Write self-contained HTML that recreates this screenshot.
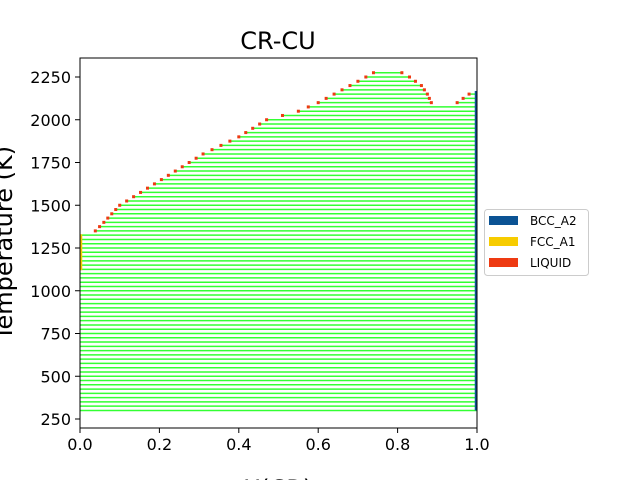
<!DOCTYPE html>
<html><head><meta charset="utf-8"><style>
html,body{margin:0;background:#fff;width:640px;height:480px;overflow:hidden;}
svg{display:block;font-family:"DejaVu Sans","Liberation Sans",sans-serif;overflow:hidden;}
</style></head><body>
<svg id="chart" width="640" height="480" viewBox="0 0 640 480">
<g id="plot"></g>
<rect x="80" y="58" width="397" height="370" fill="none" stroke="#000" stroke-width="1"/>
<text x="278" y="49" font-size="24" text-anchor="middle">CR-CU</text>
<text x="278" y="497" font-size="24" text-anchor="middle">X(CR)</text>
<text transform="translate(12,243) rotate(-90)" font-size="24" text-anchor="middle">Temperature (K)</text>
<g id="ticks"></g>
<g>
<rect x="484.5" y="209.5" width="104" height="66" rx="3" fill="#fff" stroke="#ccc"/>
<rect x="489" y="216" width="29" height="9" fill="#0b5394"/>
<text x="530" y="225" font-size="12">BCC_A2</text>
<rect x="489" y="237" width="29" height="9" fill="#f7cc00"/>
<text x="530" y="246" font-size="12">FCC_A1</text>
<rect x="489" y="258" width="29" height="9" fill="#ee3a12"/>
<text x="530" y="267" font-size="12">LIQUID</text>
</g>
</svg>
<script>
const xTicks=[0,0.2,0.4,0.6,0.8,1.0];
const xTickLabels=["0.0","0.2","0.4","0.6","0.8","1.0"];
const yTicks=[250,500,750,1000,1250,1500,1750,2000,2250];
// left liquidus (temperature, composition)
const leftT=[1330,1330,1400,1500,1600,1700,1800,1900,2000,2050,2100,2150,2200,2250,2276];
const leftX=[0.0,0.03,0.06,0.10,0.17,0.24,0.31,0.40,0.47,0.55,0.60,0.64,0.68,0.72,0.74];
// right side of hump
const humpT=[2086,2100,2150,2200,2250,2276];
const humpX=[0.894,0.885,0.875,0.86,0.83,0.81];
// rising branch near pure Cr
const riseT=[2086,2100,2150,2168];
const riseX=[0.912,0.95,0.98,1.0];
const tieStart=300, tieStep=25, tieEnd=2275;
const fccT=[1120,1330];
const bccT=[300,2168];

const NS="http://www.w3.org/2000/svg";
const sx=x=>80+397*x;
const sy=T=>419-(T-250)*0.171;
function interp(T,ts,xs){
  for(let i=ts.length-1;i>0;i--){
    if(T>=ts[i-1]&&T<=ts[i]){const a=ts[i-1],b=ts[i];return b===a?xs[i]:xs[i-1]+(xs[i]-xs[i-1])*(T-a)/(b-a);}
  }
  return null;
}
function el(tag,attrs,parent){const e=document.createElementNS(NS,tag);for(const k in attrs)e.setAttribute(k,attrs[k]);parent.appendChild(e);return e;}
const plot=document.getElementById('plot');
const dots=[];
for(let T=tieStart;T<=tieEnd;T+=tieStep){
  const segs=[];
  let lx=T<1330?0:interp(T,leftT,leftX);
  if(lx===null) continue;
  if(T<=2086){segs.push([lx,1]);}
  else{
    const hx=interp(T,humpT,humpX); if(hx!==null){segs.push([lx,hx]);dots.push([hx,T]);}
    const rx=interp(T,riseT,riseX); if(rx!==null){segs.push([rx,1]);dots.push([rx,T]);}
  }
  if(T>=1330) dots.push([lx,T]);
  segs.forEach(s=>{
    const l=el('line',{x1:sx(s[0]),x2:sx(s[1]),y1:sy(T),y2:sy(T),stroke:'#33ff33','stroke-width':1.5},plot);
    
    
  });
}
const f=el('line',{x1:sx(0)+1,x2:sx(0)+1,y1:sy(fccT[0]),y2:sy(fccT[1]),stroke:'#f7cc00','stroke-width':2.5},plot);


const b=el('line',{x1:sx(1)-1,x2:sx(1)-1,y1:sy(bccT[0]),y2:sy(bccT[1]),stroke:'#0b5394','stroke-width':2.5},plot);


dots.forEach(d=>{
  const r=el('rect',{x:sx(d[0])-1.5,y:sy(d[1])-1.5,width:3,height:3,fill:'#ee3a12'},plot);
  
  
});
const ticks=document.getElementById('ticks');
xTicks.forEach((v,i)=>{
  const t=el('line',{x1:sx(v),x2:sx(v),y1:428,y2:433,stroke:'#000'},ticks);
  
  
  const tx=el('text',{x:sx(v),y:450,'font-size':16,'text-anchor':'middle'},ticks);
  tx.textContent=xTickLabels[i];
  
  
});
yTicks.forEach(v=>{
  const t=el('line',{x1:75,x2:80,y1:sy(v),y2:sy(v),stroke:'#000'},ticks);
  
  
  const tx=el('text',{x:71,y:sy(v)+6,'font-size':16,'text-anchor':'end'},ticks);
  tx.textContent=String(v);
  
  
});
</script>
</body></html>
